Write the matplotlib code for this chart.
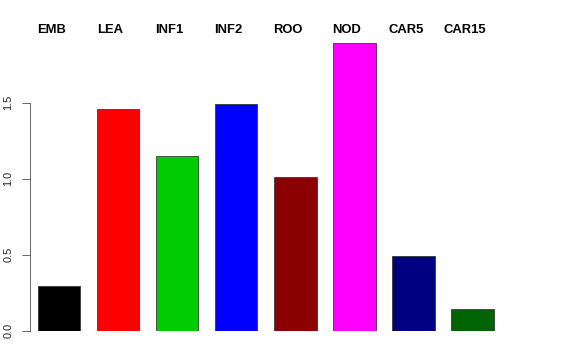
import matplotlib
matplotlib.use("Agg")
import matplotlib.pyplot as plt
import numpy as np

plt.rcParams['font.family'] = ['Liberation Sans', 'DejaVu Sans']

# tissues and values
tissues = ['EMB', 'LEA', 'INF1', 'INF2', 'ROO', 'NOD', 'CAR5', 'CAR15']
values = [0.29, 1.46, 1.145, 1.49, 1.007, 1.89, 0.487, 0.14]
colors = ['#000000', '#FF0000', '#00CD00', '#0000FF', '#8B0000', '#FF00FF', '#000080', '#006400']
yticks = [0.0, 0.5, 1.0, 1.5]
ytick_labels = ['0.0', '0.5', '1.0', '1.5']

W, H = 576, 360
fig = plt.figure(figsize=(W / 72, H / 72), dpi=72)

# axes placed in pixel terms (R-style plot region)
px_left, px_right = 29.5, 505
px_bottom, px_top = 330.5, 330.5 - 1.9 * 152
ax = fig.add_axes([px_left / W, (H - px_bottom) / H,
                   (px_right - px_left) / W, (px_bottom - px_top) / H])

x = np.arange(len(tissues))
ax.bar(x, values, width=0.72, color=colors, edgecolor='#333333', linewidth=0.8)

step = 59.07
ax.set_xlim((px_left - 59) / step, (px_right - 59) / step)
ax.set_ylim(0, 1.9)

# labels across the top, a little left of each bar
for i, name in enumerate(tissues):
    ax.text(i - 0.127, (330.5 - 30) / 152, name, ha='center', va='center',
            fontsize=13, fontweight='bold', clip_on=False)

for s in ['top', 'right', 'bottom']:
    ax.spines[s].set_visible(False)
ax.spines['left'].set_bounds(0, 1.5)
ax.spines['left'].set_color('#444444')
ax.spines['left'].set_linewidth(0.8)
ax.set_xticks([])
ax.set_yticks(yticks)
ax.set_yticklabels(ytick_labels, rotation=90, va='center', fontsize=11)
ax.tick_params(axis='y', length=8, width=0.8, color='#444444', pad=8,
               labelcolor='#222222')

fig.savefig('out.png', dpi=72)
